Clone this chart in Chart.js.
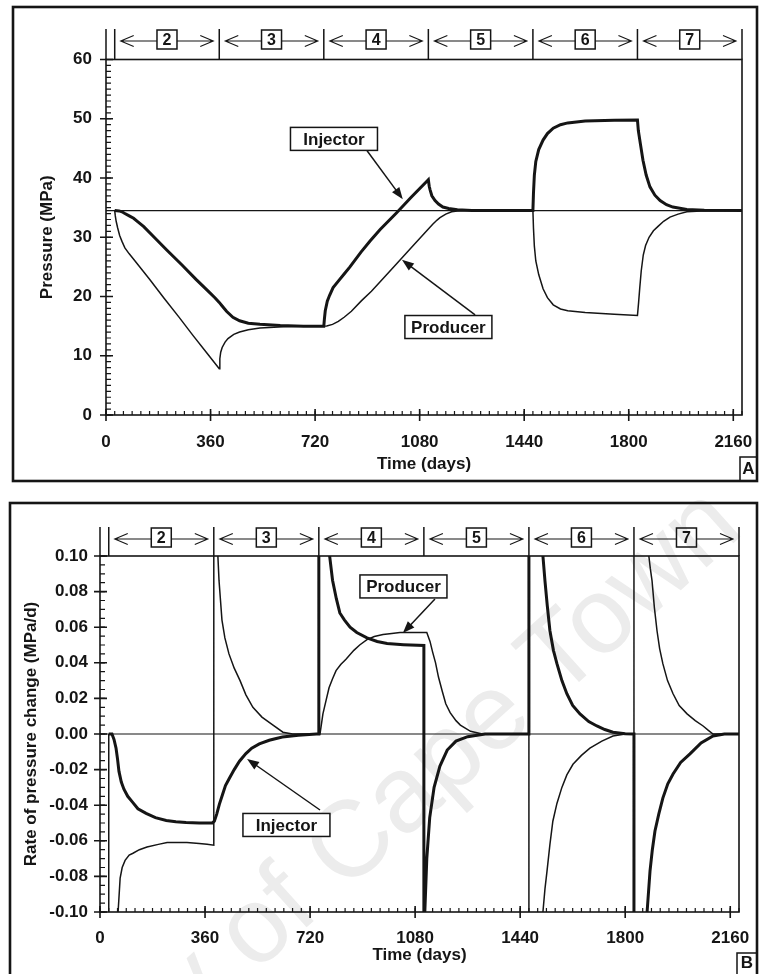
<!DOCTYPE html>
<html>
<head>
<meta charset="utf-8">
<title>Injector and producer pressure</title>
<script src="https://cdn.jsdelivr.net/npm/chart.js@4/dist/chart.umd.min.js"></script>
<style>
  html, body { margin: 0; padding: 0; background: #fff; }
  body { position: relative; width: 760px; height: 974px; overflow: hidden; }
  canvas { position: absolute; left: 0; }
  #pressureChart { top: 0; }
  #rateChart { top: 490px; }
</style>
</head>
<body>
<canvas id="pressureChart" width="760" height="490"></canvas>
<canvas id="rateChart" width="760" height="484"></canvas>
<script>
// test phases (days) and their numbers shown above the plots
const phaseBounds = [30, 390, 750, 1110, 1470, 1830, 2190];
const phaseLabels = ["2", "3", "4", "5", "6", "7"];

const dayTicks = [0, 360, 720, 1080, 1440, 1800, 2160];
const pressureTicks = [0, 10, 20, 30, 40, 50, 60];
const rateTicks = [-0.1, -0.08, -0.06, -0.04, -0.02, 0, 0.02, 0.04, 0.06, 0.08, 0.1];

const initialPressure = 34.5;
const zeroRate = 0;

// A - well pressures (MPa)
const injectorPressureDays = [30, 45, 55, 65, 80, 95, 110, 130, 160, 210, 260, 310, 350, 375, 390, 400, 415, 437, 460,
  490, 530, 600, 680, 750, 752, 755, 762, 770, 782, 800, 820, 840, 878, 910, 944, 1000, 1050, 1110, 1113,
  1116, 1122, 1133, 1145, 1160, 1180, 1210, 1260, 1300, 1470, 1472, 1475, 1480, 1490, 1505, 1520, 1540, 1565, 1590, 1650,
  1750, 1830, 1833, 1840, 1849, 1860, 1873, 1890, 1908, 1930, 1952, 2000, 2060, 2190];
const injectorPressure = [34.5, 34.45, 34.3, 34.0, 33.6, 33.2, 32.6, 31.8, 30.3, 27.8, 25.4, 22.9, 21.0, 19.8, 19.0, 18.4, 17.5, 16.5, 15.9,
  15.5, 15.3, 15.1, 15.0, 15.0, 16.2, 17.6, 19.2, 20.2, 21.5, 22.6, 23.8, 25.0, 27.5, 29.4, 31.3, 34.1, 36.7, 39.7, 38.6,
  38.0, 37.0, 36.2, 35.6, 35.1, 34.85, 34.65, 34.52, 34.5, 34.5, 37.5, 40.5, 42.8, 44.8, 46.4, 47.5, 48.4, 49.0, 49.3, 49.6,
  49.75, 49.8, 48.0, 45.8, 43.0, 40.5, 38.5, 37.1, 36.2, 35.5, 35.1, 34.7, 34.55, 34.5];

const producerPressureDays = [30, 32, 35, 40, 47, 55, 65, 80, 100, 150, 200, 250, 300, 350, 390, 392, 395, 400, 410,
  420, 440, 460, 490, 530, 610, 700, 760, 780, 800, 820, 845, 880, 914, 944, 1000, 1054, 1110, 1125, 1140,
  1150, 1170, 1190, 1210, 1250, 1470, 1472, 1475, 1480, 1490, 1505, 1520, 1540, 1565, 1590, 1650, 1750, 1830, 1834, 1838,
  1843, 1850, 1858, 1870, 1885, 1900, 1920, 1942, 1970, 2000, 2050, 2190];
const producerPressure = [34.5, 33.6, 32.7, 31.6, 30.3, 29.3, 28.2, 27.2, 26.0, 22.9, 19.7, 16.6, 13.4, 10.3, 7.8, 9.5, 10.6, 11.4, 12.3,
  12.9, 13.6, 14.0, 14.4, 14.7, 14.9, 15.0, 15.02, 15.3, 15.8, 16.5, 17.5, 19.3, 20.9, 22.5, 25.5, 28.4, 31.4, 32.2, 32.9,
  33.3, 33.9, 34.3, 34.45, 34.5, 34.5, 31.5, 28.5, 26.0, 23.7, 21.3, 19.8, 18.6, 17.9, 17.6, 17.3, 17.0, 16.8, 19.0, 21.5,
  24.3, 27.0, 28.6, 30.0, 31.1, 31.8, 32.7, 33.4, 33.9, 34.3, 34.45, 34.5];

// B - rate of pressure change (MPa/d); +-0.5 marks a jump running off the scale
const injectorRateDays = [30, 41, 48, 55, 60, 65, 73, 82, 95, 110, 130, 158, 190, 227, 260, 295, 340, 385, 392, 400,
  409, 420, 430, 443, 460, 478, 500, 520, 546, 580, 625, 680, 742, 750, 750, 787, 797, 810, 822, 838,
  857, 880, 915, 950, 984, 1040, 1110, 1110, 1113, 1120, 1130, 1145, 1165, 1190, 1220, 1260, 1320, 1470, 1470, 1518,
  1525, 1533, 1542, 1554, 1566, 1583, 1600, 1620, 1645, 1675, 1703, 1730, 1758, 1800, 1830, 1830, 1875, 1885, 1893, 1902,
  1915, 1929, 1946, 1964, 1990, 2022, 2060, 2101, 2140, 2190];
const injectorRate = [0, 0, -0.003, -0.008, -0.014, -0.021, -0.027, -0.031, -0.035, -0.038, -0.042, -0.0446, -0.047, -0.0486, -0.0493, -0.0497, -0.05, -0.05, -0.049, -0.045,
  -0.0395, -0.034, -0.029, -0.025, -0.02, -0.0153, -0.011, -0.008, -0.0056, -0.0035, -0.0017, -0.0007, 0, 0, 0.5, 0.1, 0.0864, 0.076, 0.068, 0.064,
  0.06, 0.057, 0.054, 0.052, 0.0508, 0.0502, 0.0497, -0.5, -0.101, -0.07, -0.047, -0.03, -0.018, -0.009, -0.004, -0.0015, 0, 0, 0.5, 0.1,
  0.086, 0.072, 0.058, 0.047, 0.0395, 0.03, 0.0226, 0.016, 0.0113, 0.007, 0.0045, 0.0025, 0.001, 0.0002, 0, -0.5, -0.1, -0.077, -0.065, -0.0545,
  -0.045, -0.036, -0.028, -0.0225, -0.016, -0.0112, -0.005, -0.0011, 0, 0];

const producerRateDays = [30, 30, 62, 69, 76, 86, 100, 113, 135, 161, 200, 230, 298, 340, 367, 390, 390, 404, 408,
  413, 418, 428, 442, 460, 480, 500, 524, 555, 593, 627, 660, 754, 764, 775, 785, 797, 809, 825, 843,
  870, 890, 915, 940, 970, 1000, 1028, 1120, 1131, 1140, 1150, 1160, 1173, 1185, 1200, 1220, 1235, 1270, 1310, 1470,
  1470, 1518, 1525, 1532, 1542, 1552, 1566, 1583, 1600, 1621, 1650, 1679, 1720, 1758, 1800, 1830, 1830, 1881, 1886, 1892,
  1900, 1909, 1918, 1929, 1945, 1964, 1985, 2012, 2040, 2067, 2085, 2101, 2190];
const producerRate = [0, -0.5, -0.1, -0.081, -0.075, -0.071, -0.068, -0.067, -0.065, -0.0635, -0.062, -0.061, -0.061, -0.0615, -0.062, -0.0625, 0.5, 0.1, 0.086,
  0.075, 0.064, 0.054, 0.045, 0.037, 0.03, 0.022, 0.015, 0.0095, 0.005, 0.001, 0, 0, 0.0113, 0.019, 0.026, 0.031, 0.0356, 0.039, 0.042,
  0.047, 0.05, 0.053, 0.0548, 0.0559, 0.0565, 0.057, 0.057, 0.052, 0.046, 0.04, 0.032, 0.024, 0.017, 0.012, 0.0075, 0.005, 0.0015, 0, 0,
  -0.5, -0.1, -0.087, -0.077, -0.062, -0.049, -0.039, -0.03, -0.023, -0.017, -0.012, -0.0079, -0.004, -0.0011, 0, 0, 0.5, 0.1, 0.093, 0.086,
  0.071, 0.058, 0.048, 0.0395, 0.03, 0.0226, 0.016, 0.0113, 0.0075, 0.0045, 0.002, 0, 0];

const ink = "#151515";
const sans = "'Liberation Sans', Arial, Helvetica, sans-serif";
const tickFont = { family: sans, size: 17, weight: "bold" };

const pairs = (xs, ys) => xs.map((d, i) => ({ x: d, y: ys[i] }));
const flat = (v) => [{ x: 0, y: v }, { x: phaseBounds[phaseBounds.length - 1], y: v }];

function lineSet(label, data, width) {
  return { label, data, borderColor: ink, borderWidth: width, pointRadius: 0, tension: 0, clip: 0, fill: false };
}

// plot box plus minor / major tick marks
const axesFrame = {
  id: "axesFrame",
  afterDatasetsDraw(chart, args, o) {
    const { ctx, chartArea: a, scales: { x, y } } = chart;
    ctx.save();
    ctx.strokeStyle = ink;
    ctx.lineWidth = 1.6;
    ctx.strokeRect(a.left, a.top, a.right - a.left, a.bottom - a.top);
    ctx.lineWidth = 1.2;
    ctx.beginPath();
    for (let i = 0; i * o.xMinor <= x.max; i++) {
      const px = x.getPixelForValue(i * o.xMinor);
      ctx.moveTo(px, a.bottom);
      ctx.lineTo(px, a.bottom - 4);
    }
    for (let i = 0; y.min + i * o.yMinor <= y.max + o.yMinor / 2; i++) {
      const py = y.getPixelForValue(y.min + i * o.yMinor);
      ctx.moveTo(a.left, py);
      ctx.lineTo(a.left + 5, py);
    }
    ctx.stroke();
    ctx.lineWidth = 1.6;
    ctx.beginPath();
    x.ticks.forEach((t) => {
      const px = x.getPixelForValue(t.value);
      ctx.moveTo(px, a.bottom - 6);
      ctx.lineTo(px, a.bottom + 6);
    });
    y.ticks.forEach((t) => {
      const py = y.getPixelForValue(t.value);
      ctx.moveTo(a.left - 6, py);
      ctx.lineTo(a.left + 7, py);
    });
    ctx.stroke();
    ctx.restore();
  },
};

// strip above the plot: <-- [n] --> for each phase
const phaseBand = {
  id: "phaseBand",
  afterDraw(chart, args, o) {
    const { ctx, chartArea: a, scales: { x } } = chart;
    const top = a.top - o.height;
    const bw = 20, bh = 19, by = top + 1, ay = by + bh / 2 + 1.5;
    ctx.save();
    ctx.strokeStyle = ink;
    ctx.fillStyle = ink;
    ctx.lineWidth = 1.5;
    ctx.beginPath();
    [0].concat(phaseBounds).forEach((d) => {
      const px = x.getPixelForValue(d);
      ctx.moveTo(px, top);
      ctx.lineTo(px, a.top);
    });
    ctx.stroke();
    ctx.font = "bold 16px " + sans;
    ctx.textAlign = "center";
    ctx.textBaseline = "middle";
    phaseLabels.forEach((lab, i) => {
      const x0 = x.getPixelForValue(phaseBounds[i]);
      const x1 = x.getPixelForValue(phaseBounds[i + 1]);
      const cx = (x0 + x1) / 2;
      ctx.lineWidth = 1.1;
      ctx.beginPath();
      ctx.moveTo(x0 + 6, ay); ctx.lineTo(cx - bw / 2, ay);
      ctx.moveTo(cx + bw / 2, ay); ctx.lineTo(x1 - 6, ay);
      ctx.moveTo(x0 + 19, ay - 5.5); ctx.lineTo(x0 + 6, ay); ctx.lineTo(x0 + 19, ay + 5.5);
      ctx.moveTo(x1 - 19, ay - 5.5); ctx.lineTo(x1 - 6, ay); ctx.lineTo(x1 - 19, ay + 5.5);
      ctx.stroke();
      ctx.lineWidth = 1.5;
      ctx.strokeRect(cx - bw / 2, by, bw, bh);
      ctx.fillText(lab, cx, by + bh / 2 + 1);
    });
    ctx.restore();
  },
};

// boxed labels with an arrow to their curve
const callouts = {
  id: "callouts",
  afterDatasetsDraw(chart, args, o) {
    const { ctx, scales: { x, y } } = chart;
    ctx.save();
    ctx.strokeStyle = ink;
    ctx.fillStyle = ink;
    ctx.font = "bold 17px " + sans;
    ctx.textAlign = "center";
    ctx.textBaseline = "middle";
    o.items.forEach((c) => {
      const tx = x.getPixelForValue(c.tail[0]), ty = y.getPixelForValue(c.tail[1]);
      const hx = x.getPixelForValue(c.tip[0]), hy = y.getPixelForValue(c.tip[1]);
      const ang = Math.atan2(hy - ty, hx - tx);
      const cs = Math.cos(ang), sn = Math.sin(ang);
      ctx.lineWidth = 1.5;
      ctx.beginPath();
      ctx.moveTo(tx, ty);
      ctx.lineTo(hx - 8 * cs, hy - 8 * sn);
      ctx.stroke();
      ctx.beginPath();
      ctx.moveTo(hx, hy);
      ctx.lineTo(hx - 12 * cs + 4.5 * sn, hy - 12 * sn - 4.5 * cs);
      ctx.lineTo(hx - 12 * cs - 4.5 * sn, hy - 12 * sn + 4.5 * cs);
      ctx.closePath();
      ctx.fill();
      const cx = x.getPixelForValue(c.at[0]), cy = y.getPixelForValue(c.at[1]);
      ctx.fillStyle = "#fff";
      ctx.fillRect(cx - 43.5, cy - 11.5, 87, 23);
      ctx.strokeRect(cx - 43.5, cy - 11.5, 87, 23);
      ctx.fillStyle = ink;
      ctx.fillText(c.text, cx, cy + 1);
    });
    ctx.restore();
  },
};

// outer panel border with the letter tag in the corner
const panelFrame = {
  id: "panelFrame",
  afterDraw(chart, args, o) {
    const ctx = chart.ctx;
    ctx.save();
    ctx.strokeStyle = ink;
    ctx.lineWidth = 2.6;
    ctx.strokeRect(o.left, o.top, o.right - o.left, o.bottom - o.top);
    ctx.lineWidth = 1.5;
    ctx.strokeRect(o.right - o.tagWidth, o.tagTop, o.tagWidth, o.bottom - o.tagTop);
    ctx.fillStyle = ink;
    ctx.font = "bold 17px " + sans;
    ctx.textAlign = "center";
    ctx.textBaseline = "middle";
    ctx.fillText(o.tag, o.right - o.tagWidth / 2, o.tagY);
    ctx.restore();
  },
};

// faint stamp behind the lower plot
const stamp = {
  id: "stamp",
  beforeDraw(chart, args, o) {
    const ctx = chart.ctx;
    ctx.save();
    ctx.translate(o.x, o.y);
    ctx.rotate((o.angle * Math.PI) / 180);
    ctx.font = o.size + "px " + sans;
    ctx.fillStyle = o.color;
    ctx.textBaseline = "middle";
    const lead = ctx.measureText(o.before).width;
    const mid = ctx.measureText(o.centre).width;
    ctx.fillText(o.before + o.centre + o.after, -lead - mid / 2, 0);
    ctx.restore();
  },
};

function dayAxis(labelPad, titlePad) {
  return {
    type: "linear",
    min: 0,
    max: phaseBounds[phaseBounds.length - 1],
    grid: { display: false, drawTicks: false },
    border: { display: false },
    afterBuildTicks: (axis) => { axis.ticks = dayTicks.map((v) => ({ value: v })); },
    afterFit: (axis) => { axis.height = 62; axis.paddingLeft = 0; axis.paddingRight = 0; },
    ticks: { autoSkip: false, maxRotation: 0, padding: labelPad, color: ink, font: tickFont, callback: (v) => String(v) },
    title: { display: true, text: "Time (days)", color: ink, font: tickFont, padding: { top: 0, bottom: titlePad } },
  };
}

Chart.defaults.font.family = sans;

// A: pressure
new Chart(document.getElementById("pressureChart"), {
  type: "line",
  data: {
    datasets: [
      lineSet("Initial", flat(initialPressure), 1.4),
      lineSet("Producer", pairs(producerPressureDays, producerPressure), 1.5),
      lineSet("Injector", pairs(injectorPressureDays, injectorPressure), 3),
    ],
  },
  options: {
    responsive: false,
    animation: false,
    events: [],
    layout: { padding: { left: 0, right: 18, top: 59.5, bottom: 13 } },
    plugins: {
      legend: { display: false },
      tooltip: { enabled: false },
      axesFrame: { xMinor: 30, yMinor: 1 },
      phaseBand: { height: 30.5 },
      callouts: {
        items: [
          { text: "Injector", at: [785, 46.6], tail: [899, 44.6], tip: [1022, 36.4] },
          { text: "Producer", at: [1179, 14.85], tail: [1271, 16.9], tip: [1019, 26.2] },
        ],
      },
      panelFrame: { left: 13, top: 7, right: 757, bottom: 481, tag: "A", tagWidth: 17, tagTop: 457, tagY: 469 },
    },
    scales: {
      x: dayAxis(17, 2),
      y: {
        min: 0,
        max: 60,
        grid: { display: false, drawTicks: false },
        border: { display: false },
        afterBuildTicks: (axis) => { axis.ticks = pressureTicks.map((v) => ({ value: v })); },
        afterFit: (axis) => { axis.width = 106; },
        ticks: { padding: 14, color: ink, font: tickFont, callback: (v) => String(v) },
        title: { display: true, text: "Pressure (MPa)", color: ink, font: tickFont, padding: { top: 37, bottom: 0 } },
      },
    },
  },
  plugins: [axesFrame, phaseBand, callouts, panelFrame],
});

// B: rate of pressure change
new Chart(document.getElementById("rateChart"), {
  type: "line",
  data: {
    datasets: [
      lineSet("Zero", flat(zeroRate), 1.2),
      lineSet("Producer", pairs(producerRateDays, producerRate), 1.5),
      lineSet("Injector", pairs(injectorRateDays, injectorRate), 3),
    ],
  },
  options: {
    responsive: false,
    animation: false,
    events: [],
    layout: { padding: { left: 0, right: 21, top: 66, bottom: 0 } },
    plugins: {
      legend: { display: false },
      tooltip: { enabled: false },
      axesFrame: { xMinor: 30, yMinor: 0.005 },
      phaseBand: { height: 29 },
      callouts: {
        items: [
          { text: "Producer", at: [1040, 0.0829], tail: [1148, 0.0758], tip: [1038, 0.0567] },
          { text: "Injector", at: [639, -0.0511], tail: [754, -0.0427], tip: [504, -0.014] },
        ],
      },
      panelFrame: { left: 10, top: 13, right: 757, bottom: 520, tag: "B", tagWidth: 20, tagTop: 463, tagY: 473 },
      stamp: { before: "University of ", centre: "Cape", after: " Town", x: 420, y: 295, angle: -42, size: 108, color: "#ececec" },
    },
    scales: {
      x: dayAxis(16, 8),
      y: {
        min: -0.1,
        max: 0.1,
        grid: { display: false, drawTicks: false },
        border: { display: false },
        afterBuildTicks: (axis) => { axis.ticks = rateTicks.map((v) => ({ value: v })); },
        afterFit: (axis) => { axis.width = 100; },
        ticks: { padding: 12, color: ink, font: tickFont, callback: (v) => (Math.abs(v) < 1e-9 ? "0.00" : v.toFixed(2)) },
        title: { display: true, text: "Rate of pressure change (MPa/d)", color: ink, font: tickFont, padding: { top: 21, bottom: 0 } },
      },
    },
  },
  plugins: [stamp, axesFrame, phaseBand, callouts, panelFrame],
});
</script>
</body>
</html>
